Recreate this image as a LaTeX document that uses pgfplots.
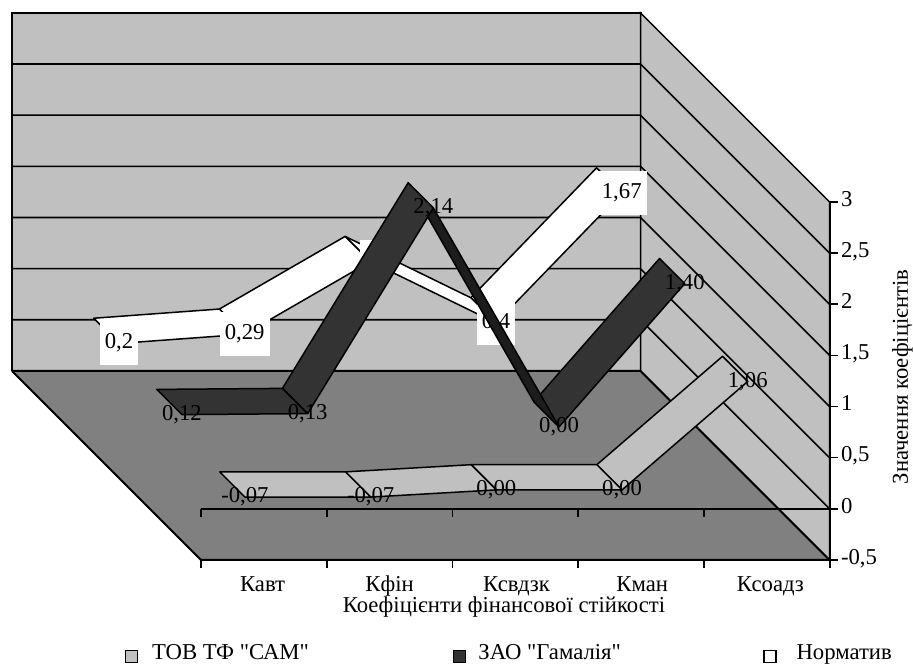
\documentclass[border=0pt]{standalone}
\usepackage{pgfplots}
\pgfplotsset{compat=1.18}
\usepackage{fontspec}
\setmainfont{Liberation Serif}[Ligatures=TeXOff]
\definecolor{wall}{HTML}{C0C0C0}
\definecolor{floorc}{HTML}{808080}
\definecolor{zao}{HTML}{333333}
\definecolor{zaod}{HTML}{1C1C1C}
\newcommand{\fs}{\fontsize{22.7}{25}\selectfont}
\newcommand{\legtext}[3]{\makebox[#1][l]{\hspace{#2}\raisebox{-3.6pt}[0pt][0pt]{#3}}}
\tikzset{
  tl/.style={anchor=base west,inner sep=0pt,yshift=-4.2pt},
  cl/.style={anchor=base,inner sep=0pt},
}
\pgfplotsset{
  box3d/.style={
    at={(201pt,155.2pt)}, anchor=origin,
    x={(125.7pt,0pt)}, y={(-189pt,189pt)}, z={(0pt,102.3pt)},
    xmin=0,xmax=5,ymin=0,ymax=1,zmin=-0.5,zmax=3,
    hide axis, clip=false,
    font=\fs,
  },
  face/.style={draw=black,line width=1.5pt,line join=round},
  lab/.style={only marks,mark=none,point meta=explicit symbolic,
    nodes near coords={\raisebox{4pt}{\pgfplotspointmeta}},
    nodes near coords style={anchor=center,inner sep=0pt,text=black,font=\fs}},
  labw/.style={lab,nodes near coords style={anchor=center,inner sep=0pt,text=black,font=\fs,
     fill=white,minimum height=44pt,inner xsep=5pt}},
}
\begin{document}
\begin{tikzpicture}[x=1pt,y=1pt]
\path[use as bounding box] (0,0) rectangle (913,664);
% box, texts, legend and the back series (Норматив)
\begin{axis}[box3d,
  legend columns=3,
  legend cell align=left,
  legend image code/.code={\draw[#1] (0pt,-6pt) rectangle (12pt,6pt);},
  legend style={at={(axis cs:-0.632,0,-1.443)},anchor=west,draw=none,fill=none,font=\fs,
    /tikz/nodes={inner sep=0pt}},
]
\addlegendimage{draw=black,line width=1.6pt,fill=wall}
\addlegendentry{\legtext{314.5pt}{13.7pt}{ТОВ ТФ "САМ"}}
\addlegendimage{draw=black,line width=1.6pt,fill=zao}
\addlegendentry{\legtext{297pt}{12pt}{ЗАО "Гамалія"}}
\addlegendimage{draw=black,line width=1.6pt,fill=white}
\addlegendentry{\legtext{130pt}{19.5pt}{Норматив}}
% walls and floor
\addplot3[fill=wall,draw=black,line width=2pt] coordinates {(0,1,-0.5)(5,1,-0.5)(5,1,3)(0,1,3)(0,1,-0.5)};
\addplot3[fill=wall,draw=black,line width=1.5pt] coordinates {(5,1,-0.5)(5,0,-0.5)(5,0,3)(5,1,3)(5,1,-0.5)};
\addplot3[fill=floorc,draw=black,line width=2pt] coordinates {(0,1,-0.5)(5,1,-0.5)(5,0,-0.5)(0,0,-0.5)(0,1,-0.5)};
% gridlines
\addplot3[black,line width=1.8pt] coordinates {(0,0,0)(5,0,0)};
\addplot3[black,line width=1.6pt] coordinates {(0,1,0)(5,1,0)(5,0,0)};
\addplot3[black,line width=1.6pt] coordinates {(0,1,0.5)(5,1,0.5)(5,0,0.5)};
\addplot3[black,line width=1.6pt] coordinates {(0,1,1)(5,1,1)(5,0,1)};
\addplot3[black,line width=1.6pt] coordinates {(0,1,1.5)(5,1,1.5)(5,0,1.5)};
\addplot3[black,line width=1.6pt] coordinates {(0,1,2)(5,1,2)(5,0,2)};
\addplot3[black,line width=1.6pt] coordinates {(0,1,2.5)(5,1,2.5)(5,0,2.5)};
% axis lines and ticks
\addplot3[black,line width=2pt] coordinates {(0,0,-0.5)(5,0,-0.5)};
\addplot3[black,line width=2pt] coordinates {(5,0,-0.58)(5,0,3)};
\addplot3[black,line width=1.6pt] coordinates {(0,0,-0.5)(0,0,-0.58)};
\addplot3[black,line width=1.6pt] coordinates {(1,0,-0.5)(1,0,-0.58)};
\addplot3[black,line width=1.6pt] coordinates {(2,0,-0.5)(2,0,-0.58)};
\addplot3[black,line width=1.6pt] coordinates {(3,0,-0.5)(3,0,-0.58)};
\addplot3[black,line width=1.6pt] coordinates {(4,0,-0.5)(4,0,-0.58)};
\addplot3[black,line width=1.6pt] coordinates {(0,0,0)(0,0,-0.08)};
\addplot3[black,line width=1.6pt] coordinates {(1,0,0)(1,0,-0.08)};
\addplot3[black,line width=1.6pt] coordinates {(2,0,0)(2,0,-0.08)};
\addplot3[black,line width=1.6pt] coordinates {(3,0,0)(3,0,-0.08)};
\addplot3[black,line width=1.6pt] coordinates {(4,0,0)(4,0,-0.08)};
\addplot3[black,line width=1.6pt] coordinates {(5,0,-0.5)(5.064,0,-0.5)};
\addplot3[black,line width=1.6pt] coordinates {(5,0,0)(5.064,0,0)};
\addplot3[black,line width=1.6pt] coordinates {(5,0,0.5)(5.064,0,0.5)};
\addplot3[black,line width=1.6pt] coordinates {(5,0,1)(5.064,0,1)};
\addplot3[black,line width=1.6pt] coordinates {(5,0,1.5)(5.064,0,1.5)};
\addplot3[black,line width=1.6pt] coordinates {(5,0,2)(5.064,0,2)};
\addplot3[black,line width=1.6pt] coordinates {(5,0,2.5)(5.064,0,2.5)};
\addplot3[black,line width=1.6pt] coordinates {(5,0,3)(5.064,0,3)};
% Норматив: 0.2 0.29 1 0.4 1.67
\addplot3[face,fill=white] coordinates {(3.5,0.7667,0.4)(4.5,0.7667,1.67)(4.5,0.9,1.67)(3.5,0.9,0.4)(3.5,0.7667,0.4)};
\addplot3[face,fill=white] coordinates {(2.5,0.7667,1)(3.5,0.7667,0.4)(3.5,0.9,0.4)(2.5,0.9,1)(2.5,0.7667,1)};
\addplot3[face,fill=white] coordinates {(1.5,0.7667,0.29)(2.5,0.7667,1)(2.5,0.9,1)(1.5,0.9,0.29)(1.5,0.7667,0.29)};
\addplot3[face,fill=white] coordinates {(0.5,0.7667,0.2)(1.5,0.7667,0.29)(1.5,0.9,0.29)(0.5,0.9,0.2)(0.5,0.7667,0.2)};
\addplot3[labw] coordinates {(0.5,0.7667,0.2)[0,2] (1.5,0.7667,0.29)[0,29] (2.5,0.7667,1)[1] (3.5,0.7667,0.4)[0,4] (4.5,0.7667,1.67)[1,67]};
% tick labels
\node[cl] at (axis cs:0.49,0,-0.8104) {Кавт};
\node[cl] at (axis cs:1.5,0,-0.8104) {Кфін};
\node[cl] at (axis cs:2.51,0,-0.8104) {Ксвдзк};
\node[cl] at (axis cs:3.51,0,-0.8104) {Кман};
\node[cl] at (axis cs:4.53,0,-0.8104) {Ксоадз};
\node[cl] at (axis cs:2.41,0,-1.0156) {Коефіцієнти фінансової стійкості};
\node[tl] at (axis cs:5.09,0,-0.5) {-0,5};
\node[tl] at (axis cs:5.09,0,0) {0};
\node[tl] at (axis cs:5.09,0,0.5) {0,5};
\node[tl] at (axis cs:5.09,0,1) {1};
\node[tl] at (axis cs:5.09,0,1.5) {1,5};
\node[tl] at (axis cs:5.09,0,2) {2};
\node[tl] at (axis cs:5.09,0,2.5) {2,5};
\node[tl] at (axis cs:5.09,0,3) {3};
\node[rotate=90,anchor=center] at (axis cs:5.58,0,1.29) {Значення коефіцієнтів};
\end{axis}
% ЗАО "Гамалія": 0.12 0.13 2.14 0 1.40
\begin{axis}[box3d]
\addplot3[face,fill=zao] coordinates {(3.5,0.4333,0)(4.5,0.4333,1.40)(4.5,0.5667,1.40)(3.5,0.5667,0)(3.5,0.4333,0)};
\addplot3[face,fill=zaod] coordinates {(2.5,0.4333,2.14)(3.5,0.4333,0)(3.5,0.5667,0)(2.5,0.5667,2.14)(2.5,0.4333,2.14)};
\addplot3[face,fill=zao] coordinates {(1.5,0.4333,0.13)(2.5,0.4333,2.14)(2.5,0.5667,2.14)(1.5,0.5667,0.13)(1.5,0.4333,0.13)};
\addplot3[face,fill=zao] coordinates {(0.5,0.4333,0.12)(1.5,0.4333,0.13)(1.5,0.5667,0.13)(0.5,0.5667,0.12)(0.5,0.4333,0.12)};
\addplot3[lab] coordinates {(0.5,0.4333,0.12)[0,12] (1.5,0.4333,0.13)[0,13] (2.5,0.4333,2.14)[2,14] (3.5,0.4333,0)[0,00] (4.5,0.4333,1.40)[1,40]};
\end{axis}
% ТОВ ТФ "САМ": -0.07 -0.07 0 0 1.06
\begin{axis}[box3d]
\addplot3[face,fill=wall] coordinates {(3.5,0.1,0)(4.5,0.1,1.06)(4.5,0.2333,1.06)(3.5,0.2333,0)(3.5,0.1,0)};
\addplot3[face,fill=wall] coordinates {(2.5,0.1,0)(3.5,0.1,0)(3.5,0.2333,0)(2.5,0.2333,0)(2.5,0.1,0)};
\addplot3[face,fill=wall] coordinates {(1.5,0.1,-0.07)(2.5,0.1,0)(2.5,0.2333,0)(1.5,0.2333,-0.07)(1.5,0.1,-0.07)};
\addplot3[face,fill=wall] coordinates {(0.5,0.1,-0.07)(1.5,0.1,-0.07)(1.5,0.2333,-0.07)(0.5,0.2333,-0.07)(0.5,0.1,-0.07)};
\addplot3[lab] coordinates {(0.5,0.1,-0.07)[-0,07] (1.5,0.1,-0.07)[-0,07] (2.5,0.1,0)[0,00] (3.5,0.1,0)[0,00] (4.5,0.1,1.06)[1,06]};
\end{axis}
\end{tikzpicture}
\end{document}
